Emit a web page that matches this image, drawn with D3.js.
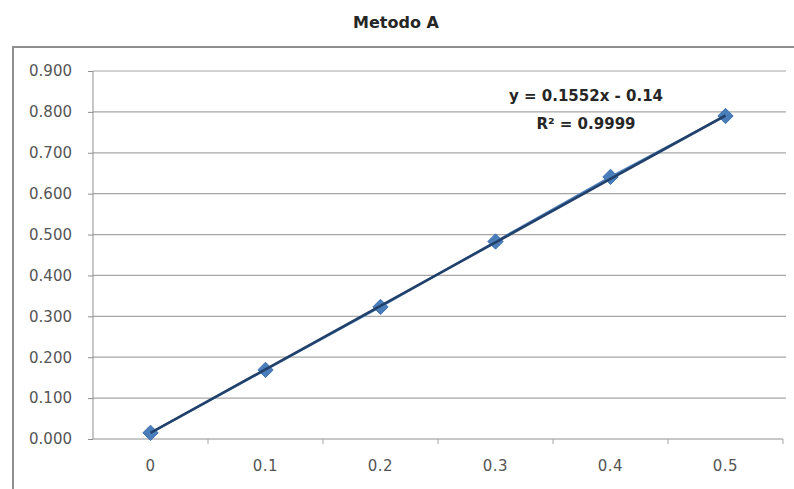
<!DOCTYPE html>
<html>
<head>
<meta charset="utf-8">
<script src="https://cdn.jsdelivr.net/npm/d3@7"></script>
<style>
  body { margin: 0; background: #fff; }
  svg { display: block; }
</style>
</head>
<body>
<div id="container"></div>
<script>
/* DATA */
const title = "Metodo A";
const categories = ["0", "0.1", "0.2", "0.3", "0.4", "0.5"];
const values = [0.015, 0.169, 0.323, 0.483, 0.641, 0.790];
const yTicks = [0, 0.1, 0.2, 0.3, 0.4, 0.5, 0.6, 0.7, 0.8, 0.9];
// excel trendline, x = category number (1..6)
const trendSlope = 0.1552,
  trendIntercept = -0.14;
const trendLabels = ["y = 0.1552x - 0.14", "R² = 0.9999"];

/* CONSTANTS */
const width = 794,
  height = 489;
const margin = { top: 71, right: 11, bottom: 50, left: 93 };
const innerW = width - margin.left - margin.right,
  innerH = height - margin.top - margin.bottom;

const svg = d3.select("#container")
  .append("svg")
  .attr("width", width)
  .attr("height", height);

// chart area frame (only top + left are visible in the crop)
svg.append("path")
  .attr("d", `M13,${height} L13,47 L${width},47`)
  .attr("fill", "none")
  .attr("stroke", "#8f8f8f")
  .attr("stroke-width", 2);

svg.append("text")
  .attr("x", 396)
  .attr("y", 28)
  .attr("text-anchor", "middle")
  .attr("font-family", "DejaVu Sans")
  .attr("font-weight", "bold")
  .attr("font-size", 16)
  .attr("fill", "#262626")
  .text(title);

const g = svg.append("g")
  .attr("transform", `translate(${margin.left},${margin.top})`);

// scales
const xScale = d3.scaleBand()
  .domain(categories)
  .range([0, innerW]);

const yScale = d3.scaleLinear()
  .domain([0, 0.9])
  .range([innerH, 0]);

// gridlines
g.append("g")
  .selectAll("line")
  .data(yTicks.slice(1))
  .join("line")
  .attr("x1", 0)
  .attr("x2", innerW + 3)
  .attr("y1", d => yScale(d))
  .attr("y2", d => yScale(d))
  .attr("stroke", "#a6a6a6")
  .attr("stroke-width", 1.2);

// y axis
const yAxis = d3.axisLeft(yScale)
  .tickValues(yTicks)
  .tickFormat(d3.format(".3f"))
  .tickSize(5)
  .tickPadding(16);
g.append("g")
  .call(yAxis)
  .call(a => a.select(".domain").attr("stroke", "#8f8f8f").attr("d", `M0,${innerH}V0`))
  .call(a => a.selectAll(".tick line").attr("stroke", "#8f8f8f"))
  .call(a => a.selectAll("text")
    .attr("font-family", "DejaVu Sans")
    .attr("font-size", 15)
    .attr("fill", "#555"));

// x axis, ticks on the category boundaries
g.append("line")
  .attr("x1", 0)
  .attr("x2", innerW)
  .attr("y1", innerH)
  .attr("y2", innerH)
  .attr("stroke", "#8f8f8f")
  .attr("stroke-width", 1.2);

g.append("g")
  .selectAll("line")
  .data(categories)
  .join("line")
  .attr("x1", d => xScale(d) + xScale.bandwidth())
  .attr("x2", d => xScale(d) + xScale.bandwidth())
  .attr("y1", innerH)
  .attr("y2", innerH + 5)
  .attr("stroke", "#a6a6a6");

g.append("g")
  .selectAll("text")
  .data(categories)
  .join("text")
  .attr("x", d => xScale(d) + xScale.bandwidth() / 2)
  .attr("y", innerH + 32)
  .attr("text-anchor", "middle")
  .attr("font-family", "DejaVu Sans")
  .attr("font-size", 15)
  .attr("letter-spacing", 0.5)
  .attr("fill", "#555")
  .text(d => d);

const cx = (d, i) => xScale(categories[i]) + xScale.bandwidth() / 2;

// series line
const line = d3.line()
  .x(cx)
  .y(d => yScale(d));

g.append("path")
  .datum(values)
  .attr("d", line)
  .attr("fill", "none")
  .attr("stroke", "#4f81bd")
  .attr("stroke-width", 2);

// markers
g.selectAll(".marker")
  .data(values)
  .join("path")
  .attr("class", "marker")
  .attr("d", d3.symbol(d3.symbolDiamond2, 150))
  .attr("transform", (d, i) => `translate(${cx(d, i)},${yScale(d)})`)
  .attr("fill", "#4a7ebb")
  .attr("stroke", "#3f72ae")
  .attr("stroke-width", 1);

// trendline on top
const trend = values.map((d, i) => trendSlope * (i + 1) + trendIntercept);
g.append("path")
  .datum(trend)
  .attr("d", line)
  .attr("fill", "none")
  .attr("stroke", "#22416a")
  .attr("stroke-width", 2.6);

// trendline label
const lbl = g.append("text")
  .attr("font-family", "DejaVu Sans")
  .attr("font-weight", "bold")
  .attr("font-size", 15)
  .attr("fill", "#262626")
  .attr("text-anchor", "middle");
lbl.selectAll("tspan")
  .data(trendLabels)
  .join("tspan")
  .attr("x", 586 - margin.left)
  .attr("y", (d, i) => 101 - margin.top + i * 28)
  .text(d => d);
</script>
</body>
</html>
